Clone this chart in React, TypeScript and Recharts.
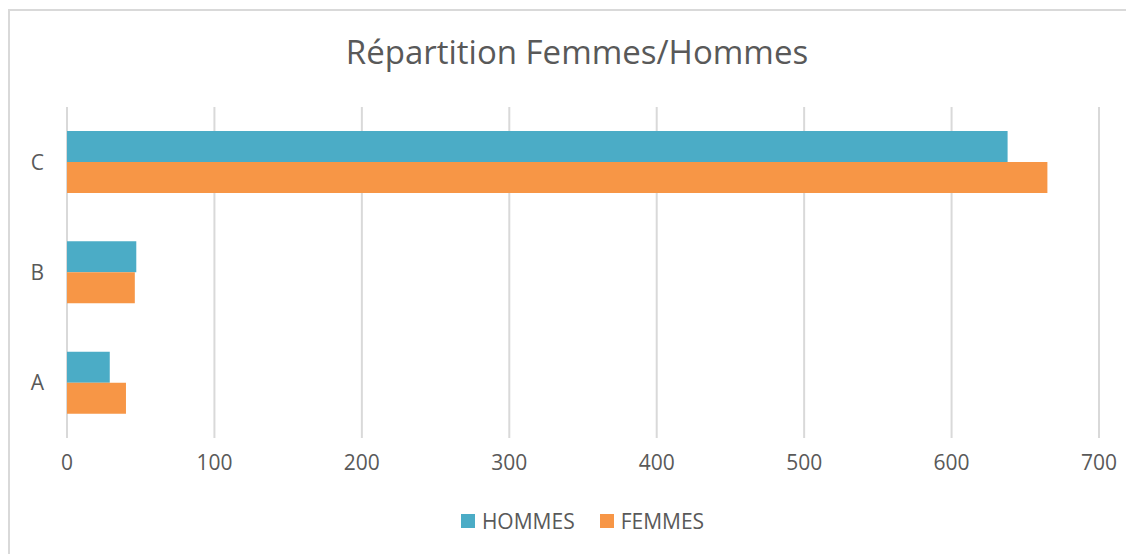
import React from 'react';
import { BarChart, Bar, XAxis, YAxis, CartesianGrid } from 'recharts';

const categories = ['A', 'B', 'C'];
const hommes = [29, 47, 638];
const femmes = [40, 46, 665];
const xTicks = [0, 100, 200, 300, 400, 500, 600, 700];
const title = 'Répartition Femmes/Hommes';
const seriesNames = ['HOMMES', 'FEMMES'];
const colors = ['#4BACC6', '#F79646'];

const data = categories.map((c, i) => ({ cat: c, HOMMES: hommes[i], FEMMES: femmes[i] }));

const FONT = '"Open Sans", sans-serif';
const TEXT = '#595959';

export default function App() {
  return (
    <div
      style={{
        position: 'relative',
        width: 1126,
        height: 545,
        borderLeft: '2px solid #d9d9d9',
        borderTop: '2px solid #d9d9d9',
        boxSizing: 'border-box',
        background: '#fff',
        fontFamily: FONT,
        marginTop: 1,
      }}
    >
      <style>{'html,body{overflow:hidden;}'}</style>
      <div
        style={{
          position: 'absolute',
          top: 24,
          left: 0,
          width: 1134,
          textAlign: 'center',
          fontSize: 33,
          lineHeight: '33px',
          color: TEXT,
        }}
      >
        {title}
      </div>
      <BarChart
        width={1124}
        height={543}
        data={data}
        layout="vertical"
        margin={{ top: 96, right: 35, left: 0, bottom: 76 }}
        barGap={0}
        barSize={31}
      >
        <CartesianGrid horizontal={false} vertical={true} stroke="#d9d9d9" strokeWidth={2} />
        <XAxis
          type="number"
          domain={[0, 700]}
          ticks={xTicks}
          axisLine={false}
          tickLine={false}
          tickSize={0}
          tickMargin={17}
          height={40}
          interval={0}
          tick={{ fill: TEXT, fontSize: 21, fontFamily: FONT }}
        />
        <YAxis
          type="category"
          dataKey="cat"
          reversed
          width={57}
          axisLine={false}
          tickLine={false}
          tickSize={0}
          tickMargin={23}
          tick={{ fill: TEXT, fontSize: 21, fontFamily: FONT }}
        />
        <Bar dataKey="HOMMES" fill={colors[0]} isAnimationActive={false} />
        <Bar dataKey="FEMMES" fill={colors[1]} isAnimationActive={false} />
      </BarChart>
      <div
        style={{
          position: 'absolute',
          top: 497,
          left: 0,
          width: 1145,
          display: 'flex',
          justifyContent: 'center',
          alignItems: 'center',
          fontSize: 21,
          lineHeight: '26px',
          color: TEXT,
          gap: 25,
        }}
      >
        {seriesNames.map((n, i) => (
          <div key={n} style={{ display: 'flex', alignItems: 'center', gap: 7 }}>
            <span style={{ display: 'inline-block', width: 14, height: 14, background: colors[i] }} />
            <span>{n}</span>
          </div>
        ))}
      </div>
    </div>
  );
}
